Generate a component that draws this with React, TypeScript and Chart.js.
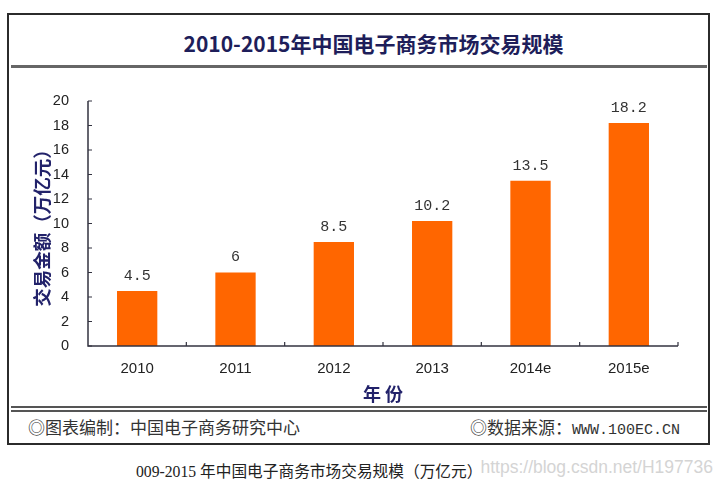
import React, { useEffect, useRef } from "react";
import { Chart, registerables } from "chart.js";

Chart.register(...registerables);

const categories = ["2010", "2011", "2012", "2013", "2014e", "2015e"];
const values = [4.5, 6, 8.5, 10.2, 13.5, 18.2];
const valueLabels = ["4.5", "6", "8.5", "10.2", "13.5", "18.2"];
const yMin = 0;
const yMax = 20;
const yStep = 2;
const chartTitle = "2010-2015年中国电子商务市场交易规模";
const yAxisTitle = "交易金额（万亿元）";
const xAxisTitle = "年 份";
const footerLeft = "◎图表编制：中国电子商务研究中心";
const footerRightCn = "◎数据来源：";
const footerRightUrl = "WWW.100EC.CN";
const caption = "009-2015 年中国电子商务市场交易规模（万亿元）";
const watermark = "https://blog.csdn.net/H197736";

const BAR_COLOR = "#ff6600";
const NAVY = "#22226a";
const AXIS = "#333340";

const axisPlugin = {
  id: "axisPlugin",
  afterDatasetsDraw(chart: any) {
    const { ctx, chartArea, scales } = chart;
    const { left, right, top, bottom } = chartArea;
    const x = scales.x;
    const y = scales.y;
    ctx.save();
    ctx.strokeStyle = AXIS;
    ctx.lineWidth = 1.5;
    ctx.beginPath();
    ctx.moveTo(left, top);
    ctx.lineTo(left, bottom);
    ctx.lineTo(right, bottom);
    ctx.stroke();
    ctx.lineWidth = 1.2;
    ctx.beginPath();
    y.ticks.forEach((t: any) => {
      const py = y.getPixelForValue(t.value);
      ctx.moveTo(left, py);
      ctx.lineTo(left + 4, py);
    });
    for (let i = 1; i <= categories.length; i++) {
      const px = x.getPixelForValue(i - 0.5);
      ctx.moveTo(px, bottom);
      ctx.lineTo(px, bottom - 4);
    }
    ctx.stroke();

    // value labels
    const meta = chart.getDatasetMeta(0);
    ctx.fillStyle = "#333";
    ctx.font = '15px "Liberation Mono", monospace';
    ctx.textAlign = "center";
    ctx.textBaseline = "middle";
    meta.data.forEach((bar: any, i: number) => {
      ctx.fillText(valueLabels[i], bar.x, bar.y - 15);
    });
    ctx.restore();
  },
};

export default function App() {
  const canvasRef = useRef<HTMLCanvasElement | null>(null);

  useEffect(() => {
    const canvas = canvasRef.current;
    if (!canvas) return;
    const chart = new Chart(canvas, {
      type: "bar",
      data: {
        labels: categories,
        datasets: [
          {
            data: values,
            backgroundColor: BAR_COLOR,
            borderWidth: 0,
            barPercentage: 0.41,
            categoryPercentage: 1,
          },
        ],
      },
      options: {
        responsive: false,
        animation: false,
        devicePixelRatio: 1,
        layout: { padding: { left: 0, right: 44, top: 101, bottom: 79 } },
        plugins: {
          legend: { display: false },
          tooltip: { enabled: false },
          title: { display: false },
        },
        scales: {
          x: {
            grid: { display: false, drawTicks: false },
            border: { display: false },
            ticks: {
              padding: 14,
              color: "#222",
              font: { family: '"Liberation Sans Narrow", "Liberation Sans", sans-serif', size: 15 },
            },
            title: {
              display: true,
              text: xAxisTitle,
              color: NAVY,
              font: { family: '"Noto Sans CJK SC", sans-serif', size: 18, weight: "bold" },
              padding: { top: 0, bottom: 1 },
            },
            afterFit: (scale: any) => {
              scale.height = 60;
            },
          },
          y: {
            min: yMin,
            max: yMax,
            grid: { display: false, drawTicks: false },
            border: { display: false },
            ticks: {
              stepSize: yStep,
              padding: 19,
              color: "#222",
              font: { family: '"Liberation Sans", sans-serif', size: 14.5 },
            },
            title: {
              display: true,
              text: yAxisTitle,
              color: NAVY,
              font: { family: '"Noto Sans CJK SC", sans-serif', size: 18.5, weight: "bold" },
              padding: { top: 31, bottom: 0 },
            },
            afterFit: (scale: any) => {
              scale.width = 88;
            },
          },
        },
      },
      plugins: [axisPlugin],
    });
    return () => chart.destroy();
  }, []);

  const abs = (s: React.CSSProperties): React.CSSProperties => ({ position: "absolute", ...s });

  return (
    <div style={abs({ left: 0, top: 0, width: 722, height: 485, background: "#fff", overflow: "hidden" })}>
      <div
        style={abs({
          left: 7,
          top: 13,
          width: 703,
          height: 432,
          border: "2px solid #2b2b2b",
          boxSizing: "border-box",
        })}
      />
      <div style={abs({ left: 11, top: 65, width: 696, height: 3, background: "#666" })} />
      <div style={abs({ left: 11, top: 406, width: 696, height: 2, background: "#555" })} />
      <div style={abs({ left: 11, top: 410, width: 696, height: 2, background: "#555" })} />
      <div
        style={abs({
          left: 0,
          width: 747,
          top: 30,
          lineHeight: "26px",
          textAlign: "center",
          fontFamily: '"Noto Sans CJK SC", sans-serif',
          fontWeight: "bold",
          fontSize: 21,
          color: "#1e1e5a",
          whiteSpace: "nowrap",
        })}
      >
        {chartTitle}
      </div>
      <div
        style={abs({
          left: 28,
          top: 416,
          lineHeight: "22px",
          fontFamily: '"Noto Sans CJK SC", sans-serif',
          fontSize: 17,
          color: "#333",
          whiteSpace: "nowrap",
        })}
      >
        {footerLeft}
      </div>
      <div
        style={abs({
          right: 722 - 680,
          top: 416,
          lineHeight: "22px",
          fontFamily: '"Noto Sans CJK SC", sans-serif',
          fontSize: 17,
          color: "#333",
          whiteSpace: "nowrap",
        })}
      >
        {footerRightCn}
        <span style={{ fontFamily: '"Liberation Mono", monospace', fontSize: 15 }}>{footerRightUrl}</span>
      </div>
      <div
        style={abs({
          left: 136,
          top: 461,
          lineHeight: "22px",
          fontFamily: '"Liberation Serif", "Noto Sans CJK SC", serif',
          fontSize: 15.7,
          color: "#222",
          whiteSpace: "nowrap",
        })}
      >
        {caption}
      </div>
      <div
        style={abs({
          right: 722 - 713,
          top: 456,
          lineHeight: "22px",
          fontFamily: '"Liberation Sans", sans-serif',
          fontSize: 17.5,
          color: "#d4d4d4",
          whiteSpace: "nowrap",
        })}
      >
        {watermark}
      </div>
      <canvas
        ref={canvasRef}
        width={722}
        height={485}
        style={abs({ left: 0, top: 0, width: 722, height: 485 })}
      />
    </div>
  );
}
